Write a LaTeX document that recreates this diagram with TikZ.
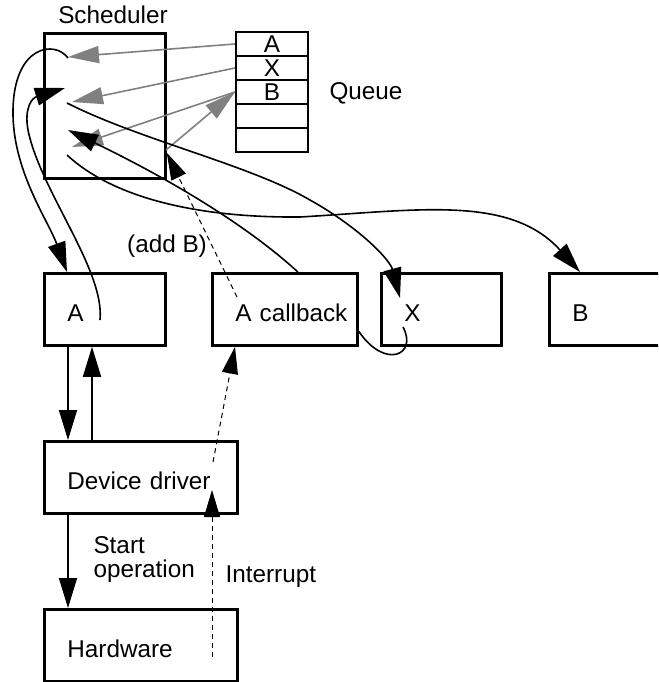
\documentclass[tikz,border=0pt]{standalone}
\usepackage{fontspec}
\setmainfont{Liberation Sans}
\usepackage{xcolor}
\usepackage{tikz}
\usetikzlibrary{arrows.meta}

\begin{document}
\begin{tikzpicture}[x=1pt, y=-1pt, font=\fontsize{24.3}{24}\selectfont,
        unit/.style={draw, line width=2.8pt, anchor=north west, minimum height=72pt,
            inner xsep=23pt, inner ysep=0pt, align=left, text height=25pt, text depth=0pt},
        slot/.style={draw, line width=2.2pt, minimum width=72pt, minimum height=24pt, inner sep=0pt},
        call/.style={line width=1.6pt, -{Triangle[length=30pt,width=18pt]}},
        fetch/.style={gray, line width=1.6pt, -{Triangle[length=31pt,width=17pt]}},
        signal/.style={dash pattern=on 5pt off 4pt, line width=1pt, -{Triangle[length=27pt,width=16pt]}}]
    \useasboundingbox (0,0) rectangle (658,682);
    \clip (0,0) rectangle (658,682);
    % scheduler and its queue
    \node[draw, line width=2.8pt, anchor=north west, minimum width=121pt, minimum height=145pt] (sched) at (43,32) {};
    \node (schedname) at (113,15) {Scheduler};
    \foreach \t [count=\i] in {A,X,B,{},{}}
        \node[slot] (q\i) at (272,20+24*\i) {\t};
    \node (qname) at (366,93) {Queue};
    % tasks
    \node[unit, text width=75pt] (a) at (43,272) {A};
    \node[unit, inner xsep=10pt, text width=125pt, align=right] (cb) at (211,272) {A callback};
    \node[unit, text width=74pt] (x) at (380,272) {X};
    \node[unit, text width=94pt] (b) at (548,272) {B};
    \node[unit, text width=147pt] (dd) at (43,440) {Device driver};
    \node[unit, text width=147pt] (hw) at (43,608) {Hardware};
    \node[anchor=west, align=left] (startop) at (90,560) {Start\\operation};
    \node[anchor=west] (irqname) at (222,577) {Interrupt};
    \node (addname) at (167,246) {(add B)};
    % free ends
    \coordinate (pickA) at (68,57);
    \coordinate (pickX) at (72,102);
    \coordinate (pickB) at (72,147);
    \coordinate (push) at (166,150);
    \coordinate (runA) at (68,58);
    \coordinate (runX) at (67,103);
    \coordinate (runB) at (67,155);
    \coordinate (doneA) at (100,320);
    \coordinate (backA) at (65,88);
    \coordinate (backCb) at (68,130);
    \coordinate (doneX) at (403,327);
    \coordinate (irq) at (212,657);
    \coordinate (irqIn) at (212,490);
    \coordinate (wake) at (213,462);
    \coordinate (addB) at (237,297);
    % queue traffic
    \draw[fetch] (q1.west) -- (pickA);
    \draw[fetch] (q2.west) -- (pickX);
    \draw[fetch] (q3.west) -- (pickB);
    \draw[fetch] (push) -- (q3.west);
    % control flow
    \draw[call] (runA) .. controls (55,40) and (14,45) .. (13,110) .. controls (12,170) and (48,220) .. ([xshift=24pt]a.north west);
    \draw[call] (doneA) .. controls (105,270) and (40,190) .. (28,130) .. controls (24,108) and (32,98) .. (backA);
    \draw[call] ([xshift=13pt]cb.north) .. controls (230,210) and (130,160) .. (backCb);
    \draw[call] (runX) .. controls (140,140) and (250,165) .. (310,200) .. controls (360,228) and (390,260) .. ([xshift=20pt,yshift=-26pt]x.north west);
    \draw[call] (runB) .. controls (110,195) and (190,218) .. (300,217) .. controls (420,210) and (510,195) .. ([xshift=32pt]b.north west);
    \draw[line width=1.6pt] (doneX) .. controls (418,355) and (385,370) .. ([yshift=-22pt]cb.east);
    \draw[call] ([xshift=25pt]a.south west) -- ([xshift=25pt]dd.north west);
    \draw[call] ([xshift=49pt]dd.north west) -- ([xshift=49pt]a.south west);
    \draw[call] ([xshift=25pt]dd.south west) -- ([xshift=25pt]hw.north west);
    % signals
    \draw[signal] (irq) -- (irqIn);
    \draw[signal] (wake) -- ([xshift=24pt]cb.south west);
    \draw[signal] (addB) -- ([yshift=27pt]sched.south east);
\end{tikzpicture}
\end{document}
